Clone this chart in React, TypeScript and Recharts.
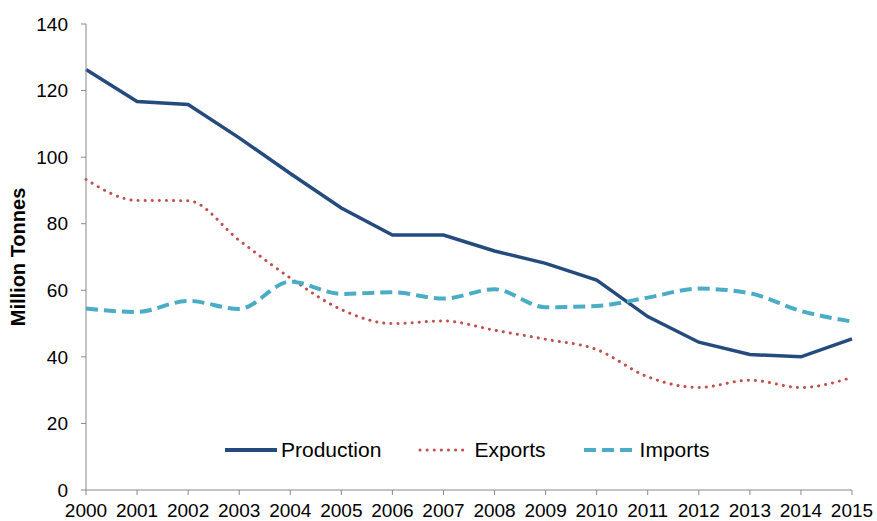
import { Legend, Line, LineChart, XAxis, YAxis } from "recharts";

const years = [
  "2000", "2001", "2002", "2003", "2004", "2005", "2006", "2007",
  "2008", "2009", "2010", "2011", "2012", "2013", "2014", "2015",
];
const production = [126.3, 116.7, 115.8, 105.8, 95.1, 84.7, 76.6, 76.6, 71.8, 68.1, 63.1, 52.1, 44.4, 40.7, 40.0, 45.4];
const exportsSeries = [93.3, 87.0, 86.9, 75.0, 63.7, 54.2, 50.0, 50.8, 48.0, 45.3, 42.2, 34.0, 30.8, 33.0, 30.8, 33.8];
const importsSeries = [54.5, 53.5, 56.8, 54.4, 62.6, 58.9, 59.4, 57.5, 60.3, 54.9, 55.3, 57.8, 60.5, 59.1, 53.8, 50.6];
const yTicks = [0, 20, 40, 60, 80, 100, 120, 140];

const data = years.map((year, i) => ({
  year,
  production: production[i],
  exports: exportsSeries[i],
  imports: importsSeries[i],
}));

const font = "'Liberation Sans', Arial, sans-serif";
const axisGray = "#898989";

const legendItems = [
  { name: "Production", color: "#254B7E", dash: undefined, cap: "butt", width: 4, gap: 0 },
  { name: "Exports", color: "#C0504D", dash: "0.1 7", cap: "round", width: 3, gap: 37 },
  { name: "Imports", color: "#4BACC6", dash: "12 6", cap: "butt", width: 4, gap: 38 },
];

function ChartLegend() {
  return (
    <div style={{ display: "flex", alignItems: "center", fontFamily: font, fontSize: 21, color: "#000" }}>
      {legendItems.map((item) => (
        <div key={item.name} style={{ display: "flex", alignItems: "center", marginLeft: item.gap }}>
          <svg width={52} height={10} style={{ marginRight: 4 }}>
            <line
              x1={item.cap === "round" ? 2 : 0}
              y1={5}
              x2={item.cap === "round" ? 50 : 52}
              y2={5}
              stroke={item.color}
              strokeWidth={item.width}
              strokeDasharray={item.dash}
              strokeLinecap={item.cap as "butt" | "round"}
            />
          </svg>
          <span>{item.name}</span>
        </div>
      ))}
    </div>
  );
}

export default function App() {
  return (
    <div style={{ position: "absolute", left: 0, top: 0, background: "#fff" }}>
      <LineChart width={877} height={521} data={data} margin={{ top: 24, right: 25, left: 0, bottom: 6 }}>
        <XAxis
          dataKey="year"
          interval={0}
          height={25}
          tickSize={5}
          tickMargin={9}
          stroke={axisGray}
          tick={{ fill: "#000", fontSize: 19, fontFamily: font }}
        />
        <YAxis
          width={86}
          domain={[0, 140]}
          ticks={yTicks}
          tickSize={5}
          tickMargin={13}
          stroke={axisGray}
          tick={{ fill: "#000", fontSize: 19, fontFamily: font }}
          label={{
            value: "Million Tonnes",
            angle: -90,
            position: "insideLeft",
            offset: 18,
            style: { textAnchor: "middle", fontFamily: font, fontSize: 20, fontWeight: "bold", fill: "#000" },
          }}
        />
        <Legend
          layout="horizontal"
          verticalAlign="middle"
          wrapperStyle={{ top: 438, left: 225, width: "auto" }}
          content={() => <ChartLegend />}
        />
        <Line
          type="linear"
          dataKey="production"
          name="Production"
          stroke="#254B7E"
          strokeWidth={3.5}
          dot={false}
          activeDot={false}
          isAnimationActive={false}
        />
        <Line
          type="monotone"
          dataKey="exports"
          name="Exports"
          stroke="#C0504D"
          strokeWidth={3}
          strokeDasharray="0.1 7"
          strokeLinecap="round"
          dot={false}
          activeDot={false}
          isAnimationActive={false}
        />
        <Line
          type="monotone"
          dataKey="imports"
          name="Imports"
          stroke="#4BACC6"
          strokeWidth={4}
          strokeDasharray="12 6"
          dot={false}
          activeDot={false}
          isAnimationActive={false}
        />
      </LineChart>
    </div>
  );
}
